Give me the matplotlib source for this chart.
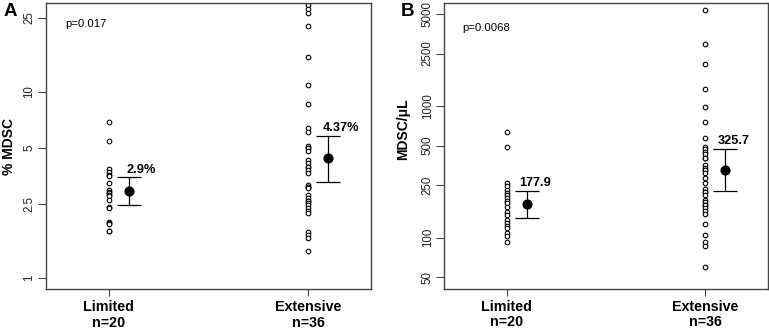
import matplotlib
matplotlib.use("Agg")
import matplotlib.pyplot as plt
import numpy as np

plt.rcParams['font.family'] = ['Liberation Sans', 'DejaVu Sans']

# ---------------- data ----------------
groups = ["Limited\nn=20", "Extensive\nn=36"]

pct_limited = [6.87, 5.43, 3.84, 3.70, 3.57, 3.52, 3.23, 2.96, 2.89, 2.84,
               2.78, 2.75, 2.62, 2.40, 2.38, 1.99, 1.97, 1.95, 1.79, 1.78]
pct_extensive = [29.3, 28.0, 26.6, 22.7, 15.4, 10.9, 8.56, 6.36, 6.05, 5.13,
                 4.96, 4.96, 4.80, 4.29, 4.12, 3.95, 3.95, 3.79, 3.64, 3.15,
                 3.08, 3.08, 3.02, 2.78, 2.67, 2.58, 2.58, 2.53, 2.46, 2.38,
                 2.28, 2.22, 1.75, 1.70, 1.64, 1.39]
pct_mean = [2.94, 4.38]
pct_lower = [2.46, 3.26]
pct_upper = [3.46, 5.80]
pct_labels = ["2.9%", "4.37%"]
pct_ticks = [1, 2.5, 5, 10, 25]
pct_p = "p=0.017"

abs_limited = [638, 491, 259, 247, 230, 220, 210, 200, 191, 182,
               172, 157, 149, 136, 129, 123, 118, 109, 103, 93]
abs_extensive = [5353, 2939, 2072, 1352, 987, 755, 574, 491, 471, 449,
                 430, 400, 400, 356, 340, 326, 326, 308, 285, 259,
                 234, 223, 223, 211, 193, 186, 177, 177, 167, 159,
                 150, 128, 105, 92, 87, 60]
abs_mean = [179, 326]
abs_lower = [140, 226]
abs_upper = [226, 471]
abs_labels = ["177.9", "325.7"]
abs_ticks = [50, 100, 250, 500, 1000, 2500, 5000]
abs_p = "p=0.0068"

# ---------------- figure ----------------
fig = plt.figure(figsize=(7.69, 3.32), dpi=100)
axA = fig.add_axes([0.0598, 0.1295, 0.4226, 0.8614])
axB = fig.add_axes([0.5778, 0.1310, 0.4209, 0.8600])

spine_col = '#444444'

def panel(ax, lim, ext, means, lo, hi, labels, ticks, ylim, ylabel, ptxt,
          ptxt_pos, lab_dx, ylab_pos, letter, letter_pos):
    ax.set_yscale('log')
    for i, vals in enumerate([lim, ext]):
        ax.plot(np.full(len(vals), i + 1.0), vals, linestyle='none',
                marker='o', markersize=3.3, markerfacecolor='white',
                markeredgecolor='black', markeredgewidth=0.8)
    xm = np.array([1.1, 2.1])
    m = np.array(means)
    yerr = [m - np.array(lo), np.array(hi) - m]
    ax.errorbar(xm, m, yerr=yerr, fmt='o', color='black', markersize=6.3,
                elinewidth=0.9, capsize=8.3, capthick=0.9)
    for i in range(2):
        ax.annotate(labels[i], xy=(i + 1 + lab_dx, hi[i]), xytext=(0, 5.5),
                    textcoords='offset points', ha='center', va='center',
                    fontsize=9.2, fontweight='bold')
    ax.set_xlim(0.685, 2.315)
    ax.set_ylim(*ylim)
    ax.set_xticks([1, 2])
    ax.set_xticklabels(groups, fontsize=10.3, fontweight='bold',
                       linespacing=1.15)
    ax.set_yticks(ticks)
    ax.set_yticklabels([str(t) for t in ticks], fontsize=8.3, color='#222222')
    ax.yaxis.set_minor_locator(matplotlib.ticker.NullLocator())
    ax.tick_params(axis='y', labelrotation=90, length=5.5, width=0.8,
                   color=spine_col, pad=2)
    for lab in ax.get_yticklabels():
        lab.set_verticalalignment('center')
    ax.tick_params(axis='x', length=5, width=0.8, color=spine_col, pad=3)
    for s in ax.spines.values():
        s.set_color(spine_col)
        s.set_linewidth(1.0)
    ax.set_ylabel(ylabel, fontsize=10, fontweight='bold', va='center')
    ax.yaxis.set_label_coords(*ylab_pos)
    ax.text(ptxt_pos[0], ptxt_pos[1], ptxt, transform=ax.transAxes,
            fontsize=8.2, ha='left', va='center')
    fig.text(letter_pos[0], letter_pos[1], letter, fontsize=13.5,
             fontweight='bold', ha='left', va='center')

panel(axA, pct_limited, pct_extensive, pct_mean, pct_lower, pct_upper,
      pct_labels, pct_ticks, (0.869, 30.0), "% MDSC", pct_p,
      (0.058, 0.927), 0.165, (-0.114, 0.50), "A", (4 / 769, 1 - 12 / 332))
panel(axB, abs_limited, abs_extensive, abs_mean, abs_lower, abs_upper,
      abs_labels, abs_ticks, (41.1, 6050), "MDSC/μL", abs_p,
      (0.057, 0.912), 0.14, (-0.1276, 0.559), "B", (401 / 769, 1 - 12 / 332))

fig.savefig("out.png", dpi=100)
